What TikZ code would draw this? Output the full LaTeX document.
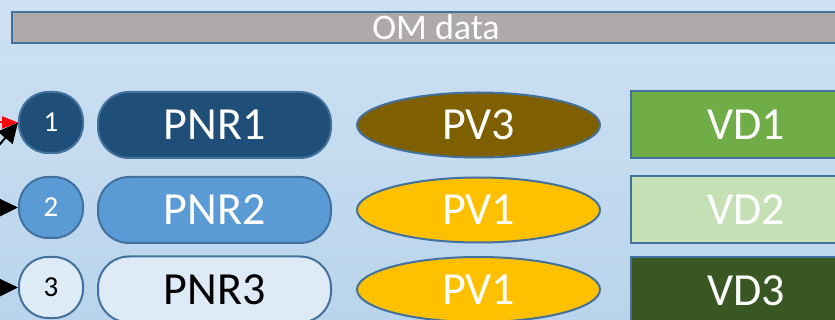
\documentclass[tikz,border=0pt]{standalone}
\usepackage{fontspec}
\setmainfont{Carlito}
\usepackage{tikz}
\usetikzlibrary{shapes.geometric, arrows.meta}
\definecolor{BGtop}{HTML}{CEE1F3}
\definecolor{BGbot}{HTML}{B9D4EC}
\definecolor{LINE}{HTML}{41719C}
\definecolor{BAR}{HTML}{AEAAAA}
\definecolor{PNRa}{HTML}{1F4E79}
\definecolor{PNRb}{HTML}{5B9BD5}
\definecolor{PNRc}{HTML}{DEEBF7}
\definecolor{PVdark}{HTML}{7F6000}
\definecolor{PVgold}{HTML}{FFC000}
\definecolor{VDa}{HTML}{70AD47}
\definecolor{VDb}{HTML}{C5E0B4}
\definecolor{VDc}{HTML}{385723}
\tikzstyle{bar} = [rectangle, minimum width=848pt, minimum height=31.5pt, inner sep=0pt, draw=LINE, line width=2pt, fill=BAR, text=white, font=\fontsize{36}{36}\selectfont]
\tikzstyle{num} = [rectangle, rounded corners=29pt, minimum width=64pt, minimum height=61pt, draw=LINE, line width=2pt, font=\fontsize{29}{29}\selectfont]
\tikzstyle{pnr} = [rectangle, rounded corners=31pt, minimum width=233pt, minimum height=66pt, draw=LINE, line width=2pt, font=\fontsize{46}{46}\selectfont]
\tikzstyle{pv} = [ellipse, minimum width=243pt, minimum height=65pt, inner sep=0pt, draw=LINE, line width=2pt, text=white, font=\fontsize{46}{46}\selectfont]
\tikzstyle{vd} = [rectangle, minimum width=230pt, minimum height=67pt, draw=LINE, line width=2pt, font=\fontsize{46}{46}\selectfont]
\tikzstyle{arrow} = [line width=2pt, -{Triangle[length=20pt, width=19pt]}]
\tikzstyle{redarrow} = [red, line width=2pt, -{Triangle[length=16pt, width=12pt]}]

\begin{document}
\begin{tikzpicture}[x=1pt, y=1pt, node distance=85pt]

\useasboundingbox (0,0) rectangle (835,-320);
\shade [top color=BGtop, bottom color=BGbot] (0,0) rectangle (835,-320);

\node (om) [bar] at (436,-27.5) {OM data};

\node (n1) [num, fill=PNRa, text=white] at (51,-122.5) {1};
\node (n2) [num, fill=PNRb, text=white, below of=n1] {2};
\node (n3) [num, fill=PNRc, below of=n2, yshift=5pt] {3};

\node (pnr1) [pnr, fill=PNRa, text=white, right of=n1, xshift=78.5pt, yshift=-2.5pt] {PNR1};
\node (pnr2) [pnr, fill=PNRb, text=white, right of=n2, xshift=78.5pt, yshift=-2.5pt] {PNR2};
\node (pnr3) [pnr, fill=PNRc, right of=n3, xshift=78.5pt, yshift=-2pt] {PNR3};

\node (pv1) [pv, fill=PVdark, right of=pnr1, xshift=179pt] {PV3};
\node (pv2) [pv, fill=PVgold, right of=pnr2, xshift=179pt] {PV1};
\node (pv3) [pv, fill=PVgold, right of=pnr3, xshift=179pt] {PV1};

\node (vd1) [vd, fill=VDa, text=white, right of=pv1, xshift=182.5pt] {VD1};
\node (vd2) [vd, fill=VDb, text=white, right of=pv2, xshift=182.5pt] {VD2};
\node (vd3) [vd, fill=VDc, text=white, right of=pv3, xshift=182.5pt, yshift=-1pt] {VD3};

% arrows coming in from the left
\coordinate (in1r) at (-40,-122.5);
\coordinate (in1b) at (-30,-180);
\coordinate (in2) at (-60,-208);
\coordinate (in3) at (-60,-288);

\draw [redarrow] (in1r) -- (n1.west);
\draw [arrow] (in1b) -- (n1.west);
\draw [arrow] (in2) -- (n2.west);
\draw [arrow] (in3) -- (n3.west);

\end{tikzpicture}
\end{document}
